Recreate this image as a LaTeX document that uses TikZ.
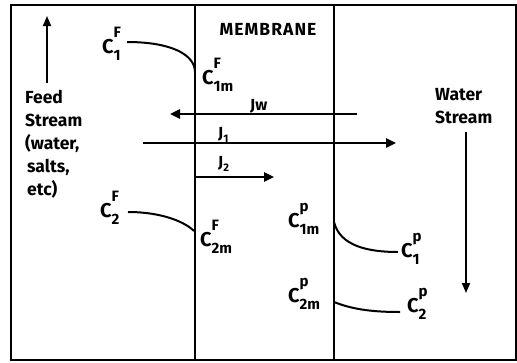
\documentclass[tikz,border=0pt]{standalone}
\usepackage{fontspec}
\setmainfont{Fira Sans}[BoldFont={Fira Sans Bold}]
\usetikzlibrary{arrows.meta}
\newcommand{\conc}[2]{C\rlap{\raisebox{0.76em}{\fontsize{15}{15}\selectfont #1}}\raisebox{-0.38em}{\fontsize{15}{15}\selectfont #2}}
\begin{document}
\begin{tikzpicture}[x=1pt,y=-1pt,font=\bfseries,
  lbl/.style={inner sep=0pt,anchor=base west,font=\bfseries\fontsize{20}{20}\selectfont},
  jlbl/.style={inner sep=0pt,anchor=base west,font=\bfseries\fontsize{16}{16}\selectfont},
  txt/.style={inner sep=0pt,anchor=north west,align=left,font=\bfseries\fontsize{17.5}{23}\selectfont},
  wall/.style={line width=1.3pt},
  flux/.style={line width=2.4pt,-{Triangle[length=10pt,width=9pt]}},
  stream/.style={line width=1.8pt,-{Triangle[length=10pt,width=8pt]}},
  prof/.style={line width=2pt}]
\useasboundingbox (0,0) rectangle (517,362);
\draw[line width=2.2pt] (11,5) rectangle (516,360);
% membrane walls
\coordinate (lt) at (195,5); \coordinate (lb) at (195,360);
\coordinate (rt) at (334,5); \coordinate (rb) at (334,360);
\draw[wall] (lt) -- (lb);
\draw[wall] (rt) -- (rb);
\node[inner sep=0pt,font=\bfseries\fontsize{17.5}{17.5}\selectfont\addfontfeature{LetterSpace=6}] (mem) at (268,29) {MEMBRANE};
% feed side text and arrow
\coordinate (fa0) at (47,83); \coordinate (fa1) at (47,16);
\draw[stream] (fa0) -- (fa1);
\node[txt] (feed) at (25,90) {Feed\\Stream\\(water,\\\hspace{2pt}salts,\\\hspace{2pt}etc)};
% water side
\node[txt] (water) at (435,88) {Water\\Stream};
\coordinate (wa0) at (466,132); \coordinate (wa1) at (466,293);
\draw[stream] (wa0) -- (wa1);
% concentration labels
\node[lbl] (c1f) at (102,53) {\conc{F}{1}};
\node[lbl] (c1mf) at (202,84) {\conc{F}{1m}};
\node[lbl] (c2f) at (100,217) {\conc{F}{2}};
\node[lbl] (c2mf) at (200,246) {\conc{F}{2m}};
\node[lbl] (c1mp) at (288,227) {\conc{p}{1m}};
\node[lbl] (c1p) at (401,257) {\conc{p}{1}};
\node[lbl] (c2mp) at (288,302) {\conc{p}{2m}};
\node[lbl] (c2p) at (407,312) {\conc{p}{2}};
% profiles
\coordinate (p1a) at (127,42); \coordinate (p1b) at (195,72);
\draw[prof] (p1a) .. controls (172,42) and (195,55) .. (p1b);
\coordinate (p2a) at (128,212); \coordinate (p2b) at (194,231);
\draw[prof] (p2a) .. controls (162,212) and (185,222) .. (p2b);
\coordinate (p3a) at (334,222); \coordinate (p3b) at (398,252);
\draw[prof] (p3a) .. controls (340,246) and (368,252) .. (p3b);
\coordinate (p4a) at (334,302); \coordinate (p4b) at (400,312);
\draw[prof] (p4a) .. controls (354,310) and (375,312) .. (p4b);
% fluxes
\coordinate (jw0) at (357,114); \coordinate (jw1) at (170,114);
\draw[flux] (jw0) -- (jw1);
\node[jlbl] (jw) at (250,110) {Jw};
\coordinate (j10) at (143,143); \coordinate (j11) at (396,143);
\draw[flux] (j10) -- (j11);
\node[jlbl] (j1) at (218,138) {J\raisebox{-0.3em}{\fontsize{11}{11}\selectfont 1}};
\coordinate (j20) at (195,177); \coordinate (j21) at (274,177);
\draw[flux] (j20) -- (j21);
\node[jlbl] (j2) at (218,167) {J\raisebox{-0.3em}{\fontsize{11}{11}\selectfont 2}};
\end{tikzpicture}
\end{document}
